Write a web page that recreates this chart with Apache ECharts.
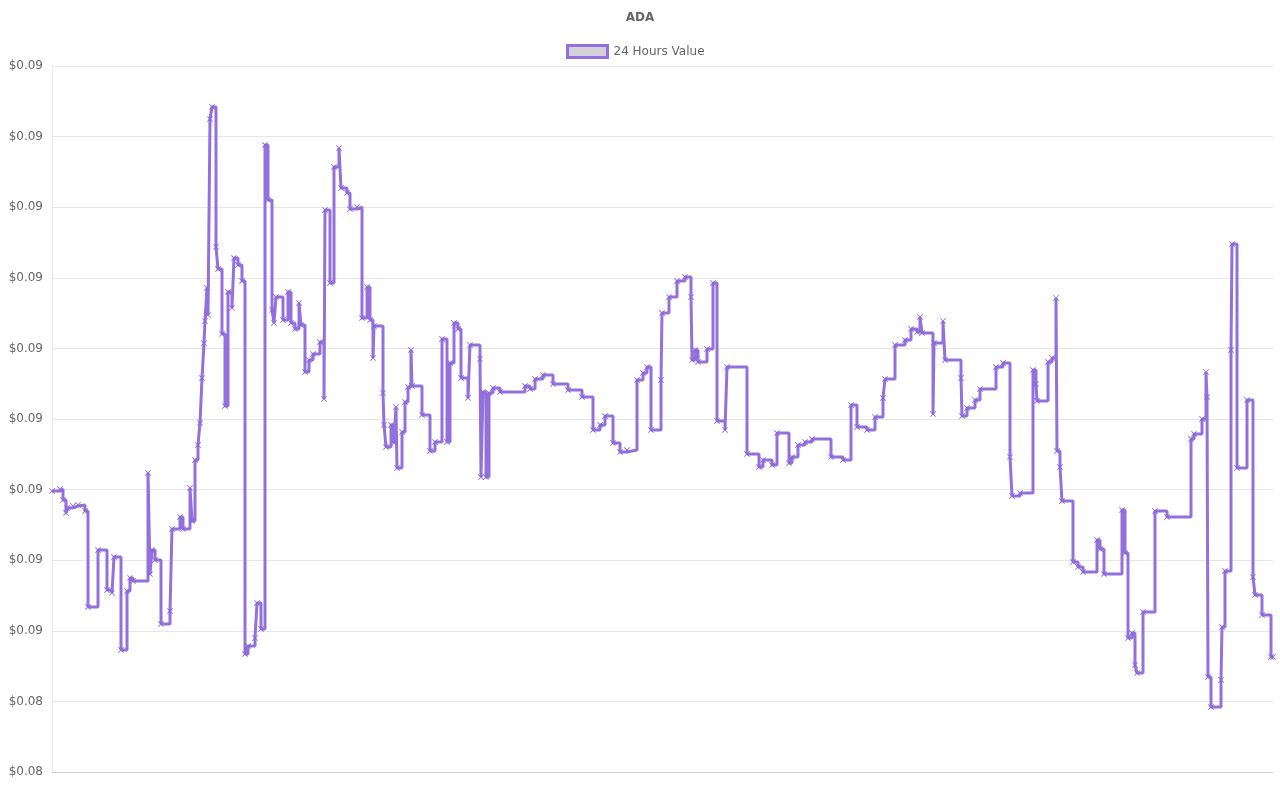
<!DOCTYPE html>
<html>
<head>
<meta charset="utf-8">
<script src="https://cdn.jsdelivr.net/npm/echarts@6/dist/echarts.min.js"></script>
<style>
html,body{margin:0;padding:0;background:#fff;}
#chart{width:1280px;height:800px;}
</style>
</head>
<body>
<div id="chart"></div>
<script>
const title = 'ADA';
const seriesName = '24 Hours Value';
const minutes = [0,8,11,14,15,21,26,33,36,46,55,60,62,69,75,78,81,96,98,100,103,109,118,120,128,131,138,140,143,146,148,150,152,153,155,156,158,160,164,166,170,173,176,180,182,186,190,193,196,203,205,209,213,216,220,222,224,231,236,239,243,247,249,253,257,261,268,272,273,278,282,287,289,295,298,305,310,315,318,321,322,331,332,334,339,342,344,345,350,353,356,359,360,370,378,383,390,395,398,402,406,409,416,418,428,429,431,434,437,441,448,473,478,483,491,501,516,530,541,548,553,561,568,575,585,591,595,599,609,610,617,625,633,639,640,643,646,655,661,665,673,675,695,707,711,720,725,737,740,746,753,760,779,791,799,805,815,823,831,833,843,853,859,865,868,870,881,882,891,893,909,910,915,923,928,944,951,958,960,968,981,984,985,996,1000,1004,1005,1008,1010,1021,1026,1031,1045,1048,1052,1070,1073,1076,1080,1083,1085,1091,1103,1115,1139,1142,1150,1154,1155,1156,1159,1169,1170,1173,1179,1180,1185,1195,1201,1203,1210,1219,1221];
const prices = [0.085990,0.086004,0.085926,0.085834,0.085870,0.085884,0.085891,0.085848,0.085169,0.085572,
0.085289,0.085268,0.085523,0.084864,0.085282,0.085374,0.085353,0.086118,0.085402,0.085572,
0.085501,0.085048,0.085140,0.085721,0.085806,0.085721,0.086011,0.085778,0.086210,0.086316,
0.086472,0.086790,0.087038,0.087194,0.087428,0.087237,0.088625,0.088710,0.087718,0.087562,
0.087102,0.086592,0.087400,0.087286,0.087640,0.087591,0.087477,0.084836,0.084892,0.084949,
0.085197,0.085013,0.088441,0.088051,0.087272,0.087180,0.087364,0.087201,0.087400,0.087180,
0.087137,0.087322,0.087166,0.086833,0.086918,0.086960,0.087045,0.086642,0.087980,0.087463,
0.088285,0.088419,0.088136,0.088101,0.087987,0.088001,0.087215,0.087435,0.087201,0.086932,
0.087159,0.086684,0.086458,0.086302,0.086458,0.086330,0.086585,0.086153,0.086408,0.086620,
0.086727,0.086989,0.086734,0.086528,0.086273,0.086337,0.087067,0.086337,0.086897,0.087180,
0.087137,0.086790,0.086649,0.087024,0.086925,0.086089,0.086691,0.086089,0.086684,0.086720,
0.086691,0.086734,0.086713,0.086783,0.086812,0.086748,0.086705,0.086656,0.086422,0.086458,
0.086521,0.086330,0.086266,0.086280,0.086776,0.086826,0.086868,0.086422,0.086776,0.087251,
0.087364,0.087477,0.087506,0.087364,0.086918,0.086989,0.086904,0.086996,0.087463,0.086486,
0.086422,0.086868,0.086252,0.086160,0.086210,0.086174,0.086401,0.086188,0.086231,0.086316,
0.086337,0.086358,0.086231,0.086210,0.086599,0.086443,0.086422,0.086514,0.086649,0.086783,
0.087024,0.087060,0.087137,0.087116,0.087222,0.087109,0.086535,0.087038,0.087194,0.086918,
0.086790,0.086521,0.086578,0.086635,0.086713,0.086868,0.086897,0.086231,0.085955,0.085976,
0.086847,0.086748,0.086628,0.086904,0.086932,0.087357,0.086273,0.086160,0.085919,0.085487,
0.085452,0.085416,0.085643,0.085579,0.085402,0.085856,0.085551,0.084949,0.084984,0.084758,
0.084701,0.085133,0.085848,0.085806,0.086358,0.086394,0.086500,0.086833,0.086656,0.084673,
0.084460,0.084652,0.085027,0.085424,0.086989,0.087739,0.086153,0.086635,0.085381,0.085254,
0.085112,0.084815,0.084815];

const data = minutes.map((m, i) => [m, prices[i]]);
const FONT = 'DejaVu Sans';
const chart = echarts.init(document.getElementById('chart'), null, {renderer: 'canvas'});
chart.setOption({
  animation: false,
  backgroundColor: '#fff',
  title: {
    text: title, left: 'center', top: 7,
    textStyle: {fontFamily: FONT, fontSize: 12, fontWeight: 'bold', color: '#666'}
  },
  legend: {
    top: 44, left: 566, padding: 0,
    icon: 'rect', itemWidth: 40, itemHeight: 12,
    textStyle: {fontFamily: FONT, fontSize: 12, color: '#666', padding: [0, 0, 0, 1]},
    data: [{name: seriesName, itemStyle: {color: '#d5d1d9', borderColor: '#9370db', borderWidth: 3}}]
  },
  grid: {left: 52, right: 7, top: 66, bottom: 28, containLabel: false},
  xAxis: {
    type: 'value', min: 0, max: 1221,
    axisLabel: {show: false}, axisTick: {show: false},
    splitLine: {show: false},
    axisLine: {show: true, lineStyle: {color: '#cfcfcf', width: 1}}
  },
  yAxis: {
    type: 'value', min: 0.0840, max: 0.0890, interval: 0.0005,
    axisLabel: {
      fontFamily: FONT, fontSize: 12, color: '#666', margin: 9,
      formatter: v => '$' + v.toFixed(2)
    },
    axisTick: {show: false},
    axisLine: {show: true, lineStyle: {color: '#e6e6e6'}},
    splitLine: {show: true, lineStyle: {color: '#e6e6e6', width: 1}}
  },
  series: [{
    name: seriesName,
    type: 'line',
    step: 'end',
    data: data,
    showSymbol: true,
    showAllSymbol: true,
    symbol: 'path://M0,1L1,0L5,4L9,0L10,1L6,5L10,9L9,10L5,6L1,10L0,9L4,5Z',
    symbolSize: 6,
    itemStyle: {color: '#8867d6'},
    lineStyle: {color: '#9370db', width: 3},
    emphasis: {disabled: true}
  }]
});
</script>
</body>
</html>
